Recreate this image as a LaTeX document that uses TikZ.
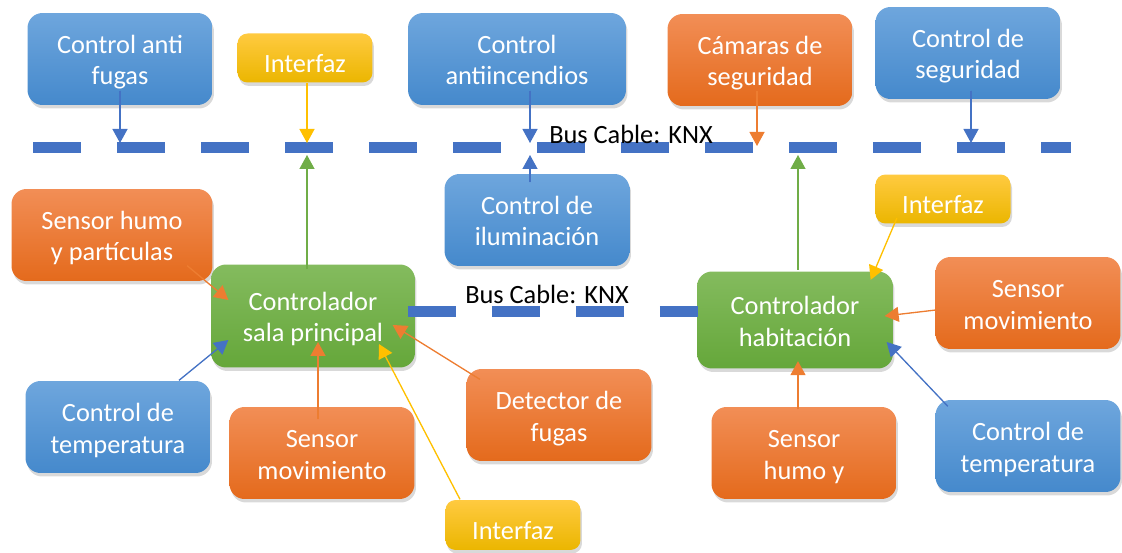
\documentclass[tikz,border=0pt]{standalone}
\usepackage{fontspec}
\setmainfont{Carlito}
\usepackage{tikz}
\usetikzlibrary{arrows.meta,calc,shadows}

\definecolor{azulA}{HTML}{6EA6DD}
\definecolor{azulB}{HTML}{4589CC}
\definecolor{naranjaA}{HTML}{F28E56}
\definecolor{naranjaB}{HTML}{E46A1C}
\definecolor{verdeA}{HTML}{84BB5E}
\definecolor{verdeB}{HTML}{65A73A}
\definecolor{amarilloA}{HTML}{FFCA40}
\definecolor{amarilloB}{HTML}{EBB600}
\definecolor{lineaAzul}{HTML}{4472C4}
\definecolor{lineaNaranja}{HTML}{ED7D31}
\definecolor{lineaAmarillo}{HTML}{FFC000}
\definecolor{lineaVerde}{HTML}{70AD47}
\newcommand{\cajafont}{\fontsize{15}{18}\selectfont}

\begin{document}
\begin{tikzpicture}[x=0.02cm,y=-0.02cm,->,>={Triangle[length=0.28cm,width=0.3cm]},
                    line width=0.75pt]
  \tikzstyle{box}=[rectangle,rounded corners=0.3cm,draw=none,text=white,align=center,
                   minimum width=3.7cm,minimum height=1.84cm,inner sep=0pt,font=\cajafont,
                   text height=29.6pt,text depth=0pt,
                   drop shadow={shadow xshift=0.3mm,shadow yshift=-0.7mm,opacity=0.3}]
  \tikzstyle{azul}=[box,top color=azulA,bottom color=azulB]
  \tikzstyle{naranja}=[box,top color=naranjaA,bottom color=naranjaB]
  \tikzstyle{verde}=[box,top color=verdeA,bottom color=verdeB]
  \tikzstyle{amarillo}=[box,top color=amarilloA,bottom color=amarilloB,rounded corners=0.2cm,
                        minimum width=2.7cm,minimum height=0.98cm,
                        text height=16.5pt,text depth=0pt]
  \tikzstyle{bus}=[-,draw=lineaAzul,line width=0.22cm,dash pattern=on 0.96cm off 0.72cm]
  \tikzstyle{etiqueta}=[inner sep=0pt,text=black,font=\cajafont]
  \tikzstyle{fAzul}=[draw=lineaAzul,fill=lineaAzul]
  \tikzstyle{fNaranja}=[draw=lineaNaranja,fill=lineaNaranja]
  \tikzstyle{fAmarillo}=[draw=lineaAmarillo,fill=lineaAmarillo]
  \tikzstyle{fVerde}=[draw=lineaVerde,fill=lineaVerde]

  \useasboundingbox[-] (0,0) rectangle (1122,553);

  % fila de arriba
  \node[azul] (cAnti)    at (120,59)  {Control anti\\fugas};
  \node[amarillo] (iArriba) at (305,58) {Interfaz};
  \node[azul,minimum width=4.36cm] (cIncendios) at (517,59) {Control\\antiincendios};
  \node[naranja] (camaras) at (760,60) {Cámaras de\\seguridad};
  \node[azul] (cSeguridad) at (968,53) {Control de\\seguridad};

  % fila del medio
  \node[azul] (cIluminacion) at (537,220) {Control de\\iluminación};
  \node[naranja,minimum width=4.02cm] (sHumo) at (112,235) {Sensor humo\\y partículas};
  \node[verde,minimum width=4.08cm,minimum height=2.06cm] (salaP) at (313,316) {Controlador\\sala principal};
  \node[amarillo] (iDerecha) at (943,199) {Interfaz};
  \node[verde,minimum width=3.92cm,minimum height=1.94cm] (hab) at (795,320) {Controlador\\habitación};
  \node[naranja] (sMovD) at (1028,303) {Sensor\\movimiento};

  % fila de abajo
  \node[azul] (cTempI)   at (118,427) {Control de\\temperatura};
  \node[naranja] (sMovI) at (322,453) {Sensor\\movimiento};
  \node[naranja] (detFugas) at (559,415) {Detector de\\fugas};
  \node[amarillo,minimum height=1cm] (iAbajo) at (513,525) {Interfaz};
  \node[naranja] (sHumoY) at (804,453) {Sensor\\humo y};
  \node[azul] (cTempD)   at (1028,446) {Control de\\temperatura};

  % buses
  \coordinate (busL) at (33,148);
  \coordinate (busR) at (1071,148);
  \coordinate (busM1) at (408,312);
  \coordinate (busM2) at (698,312);
  \draw[bus] (busL) -- (busR);
  \draw[bus] (busM1) -- (busM2);
  \node[etiqueta] (knx1) at (631,134) {Bus Cable: KNX};
  \node[etiqueta] (knx2) at (547,294) {Bus Cable: KNX};

  % tomas del bus
  \coordinate (k1) at (120,143);
  \coordinate (k2) at (307,143);
  \coordinate (k3) at (307,155);
  \coordinate (k4) at (530,143);
  \coordinate (k5) at (530,155);
  \coordinate (k6) at (757,146);
  \coordinate (k7) at (798,155);
  \coordinate (k8) at (971,143);

  \path ($(cAnti.south)+(0,-15)$)        edge[fAzul]     (k1)
        ($(iArriba.south)+(2,0)$)        edge[fAmarillo] (k2)
        ($(salaP.north)+(-6,5)$)         edge[fVerde]    (k3)
        ($(cIncendios.south)+(13,-15)$)  edge[fAzul]     (k4)
        ($(cIluminacion.north)+(-7,9)$)  edge[fAzul]     (k5)
        ($(camaras.south)+(-3,-16)$)     edge[fNaranja]  (k6)
        ($(hab.north)+(3,-1)$)           edge[fVerde]    (k7)
        ($(cSeguridad.south)+(3,-9)$)    edge[fAzul]     (k8);

  \path ($(sHumo.south east)+(-26,-16)$)  edge[fNaranja]  ($(salaP.west)+(18,-16)$)
        ($(cTempI.north)+(61,0)$)         edge[fAzul]     ($(salaP.west)+(18,24)$)
        ($(sMovI.north)+(-4,13)$)         edge[fNaranja]  ($(salaP.center)+(5,26)$)
        ($(iAbajo.north)+(-53,0)$)        edge[fAmarillo] ($(salaP.center)+(66,28)$)
        ($(detFugas.north west)+(14,11)$) edge[fNaranja]  ($(salaP.east)+(-23,9)$)
        ($(iDerecha.south west)+(22,-6)$) edge[fAmarillo] ($(hab.north east)+(-23,9)$)
        ($(sMovD.west)+(1,7)$)            edge[fNaranja]  ($(hab.east)+(-9,-4)$)
        ($(sHumoY.north)+(-6,3)$)         edge[fNaranja]  ($(hab.south)+(3,-8)$)
        ($(cTempD.north west)+(13,7)$)    edge[fAzul]     ($(hab.east)+(-7,22)$);
\end{tikzpicture}
\end{document}
